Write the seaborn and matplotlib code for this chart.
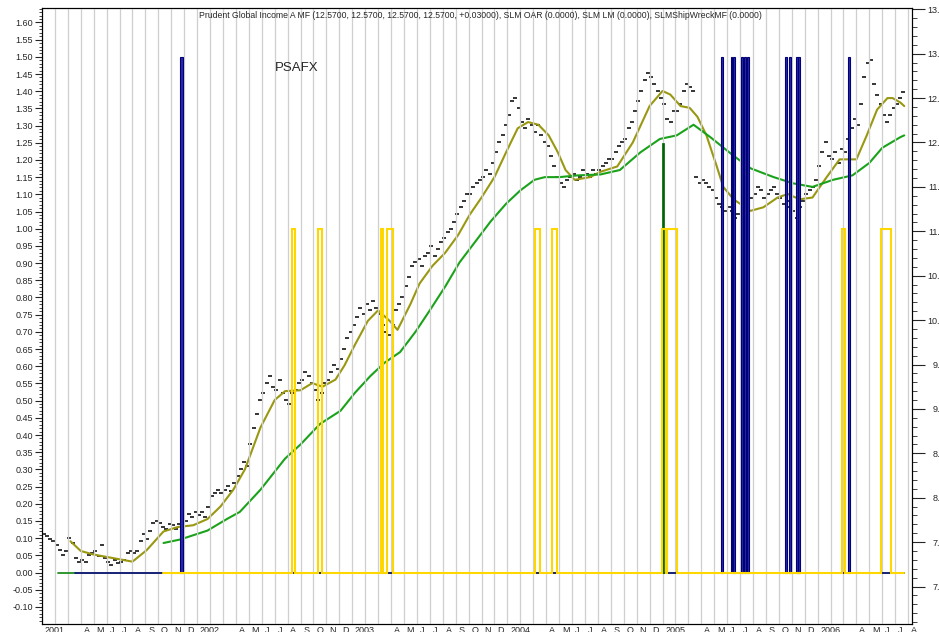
import matplotlib
matplotlib.use("Agg")
import matplotlib.pyplot as plt
from matplotlib.ticker import MultipleLocator, FuncFormatter
from matplotlib.transforms import ScaledTranslation
import seaborn as sns

# ---------------- data (x = months since Jan 2001) ----------------
price_2001 = [7.59, 7.57, 7.53, 7.51, 7.47, 7.41, 7.36, 7.40, 7.55, 7.49, 7.32, 7.28,
              7.30, 7.28, 7.36, 7.38, 7.40, 7.34, 7.47, 7.32, 7.28, 7.24, 7.30, 7.26,
              7.28, 7.30, 7.38, 7.40, 7.38, 7.40, 7.51, 7.59, 7.53, 7.63, 7.72, 7.74,
              7.72, 7.67, 7.65, 7.70, 7.69, 7.65, 7.70, 7.74, 7.74, 7.82, 7.78, 7.84]
price_2002 = [7.80, 7.84, 7.78, 7.90, 8.02, 8.05, 8.09, 8.05, 8.09, 8.13, 8.07, 8.17,
              8.25, 8.32, 8.40, 8.36, 8.60, 8.79, 8.94, 9.10, 9.18, 9.29, 9.37, 9.25,
              9.21, 9.33, 9.18, 9.10, 9.06, 9.18, 9.21, 9.29, 9.33, 9.41, 9.37, 9.29,
              9.21, 9.10, 9.18, 9.29, 9.33, 9.41, 9.49, 9.45, 9.56, 9.68, 9.80, 9.87]
price_2003 = [9.95, 10.03, 10.14, 10.07, 10.18, 10.11, 10.22, 10.14, 10.07, 9.95, 9.87, 9.83,
              9.95, 10.11, 10.18, 10.26, 10.38, 10.49, 10.61, 10.65, 10.69, 10.61, 10.72, 10.76,
              10.84, 10.72, 10.80, 10.88, 10.92, 10.99, 11.03, 11.11, 11.19, 11.27, 11.34, 11.42,
              11.42, 11.50, 11.54, 11.58, 11.61, 11.69, 11.65, 11.77, 11.89, 12.00, 12.08, 12.20]
price_2004 = [12.31, 12.47, 12.50, 12.39, 12.23, 12.16, 12.27, 12.20, 12.12, 12.20, 12.08, 12.00,
              11.96, 11.85, 11.73, 11.61, 11.54, 11.50, 11.58, 11.61, 11.65, 11.58, 11.61, 11.69,
              11.65, 11.61, 11.69, 11.65, 11.69, 11.73, 11.77, 11.81, 11.81, 11.89, 11.96, 12.00,
              12.04, 12.16, 12.23, 12.35, 12.47, 12.58, 12.70, 12.78, 12.74, 12.66, 12.58, 12.50]
price_2005 = [12.43, 12.27, 12.23, 12.35, 12.35, 12.43, 12.58, 12.66, 12.62, 12.58, 11.61, 11.54,
              11.58, 11.54, 11.50, 11.46, 11.38, 11.31, 11.27, 11.23, 11.27, 11.23, 11.15, 11.19,
              11.23, 11.19, 11.31, 11.38, 11.42, 11.50, 11.46, 11.38, 11.42, 11.46, 11.50, 11.42,
              11.38, 11.31, 11.34, 11.27, 11.23, 11.15, 11.27, 11.34, 11.42, 11.46, 11.50, 11.58]
price_2006 = [11.73, 11.89, 12.00, 11.85, 11.81, 11.89, 11.77, 11.93, 11.89, 12.04, 12.16, 12.27,
              12.20, 12.43, 12.74, 12.89, 12.93, 12.66, 12.54, 12.43, 12.31, 12.23, 12.31, 12.39,
              12.43, 12.50, 12.57]

short_ma_t = [2.2, 3.0, 4.0, 5.5, 7.0, 8.1, 9.4, 10.5, 11.7, 12.8, 13.8, 14.8, 15.7, 16.9, 18.0,
              18.8, 20.0, 20.9, 21.7, 22.7, 23.4, 24.2, 25.2, 26.0, 26.9, 27.5, 28.5, 29.2, 30.2,
              31.2, 32.2, 33.1, 34.0, 35.0, 35.9, 36.8, 37.6, 38.4, 39.2, 39.9, 40.5, 41.2, 42.4,
              43.2, 44.5, 45.7, 47.0, 48.0, 48.6, 49.4, 50.1, 50.7, 51.4, 52.2, 52.7, 53.5, 54.8,
              55.8, 56.9, 57.7, 58.6, 59.6, 60.7, 61.7, 63.0, 63.8, 64.6, 65.4, 65.8, 66.4, 66.7]
short_ma_v = [7.51, 7.40, 7.36, 7.32, 7.28, 7.41, 7.62, 7.67, 7.69, 7.76, 7.90, 8.09, 8.32, 8.79, 9.10,
              9.20, 9.21, 9.29, 9.25, 9.33, 9.49, 9.72, 9.99, 10.11, 9.99, 9.89, 10.18, 10.41, 10.61,
              10.76, 10.96, 11.19, 11.38, 11.61, 11.89, 12.16, 12.23, 12.20, 12.08, 11.89, 11.69, 11.58, 11.61,
              11.67, 11.73, 12.00, 12.41, 12.58, 12.54, 12.41, 12.39, 12.29, 12.08, 11.73, 11.50, 11.36, 11.23,
              11.27, 11.38, 11.42, 11.36, 11.38, 11.61, 11.81, 11.81, 12.08, 12.37, 12.50, 12.50, 12.45, 12.41]

long_ma_t = [9.4, 10.7, 12.8, 14.3, 15.3, 16.9, 18.8, 20.0, 21.5, 23.1, 24.2, 25.4, 26.5, 27.7,
             28.9, 30.0, 31.2, 32.3, 33.5, 34.7, 35.9, 37.0, 38.1, 38.9, 40.0, 41.5, 43.2, 44.7,
             46.3, 47.8, 49.1, 50.4, 51.7, 53.5, 54.8, 56.6, 58.1, 59.6, 61.2, 62.7, 64.0, 65.0,
             66.4, 66.7]
long_ma_v = [7.49, 7.53, 7.63, 7.76, 7.84, 8.09, 8.44, 8.60, 8.83, 8.98, 9.18, 9.37, 9.52, 9.64,
             9.87, 10.11, 10.38, 10.65, 10.88, 11.11, 11.31, 11.46, 11.58, 11.61, 11.61, 11.63, 11.64, 11.69,
             11.89, 12.04, 12.08, 12.20, 12.06, 11.85, 11.71, 11.61, 11.54, 11.50, 11.58, 11.63, 11.77, 11.94,
             12.06, 12.08]

# SLM OAR (navy) signal: bars up to 1.5
oar_start = [10.64, 52.53, 53.30, 53.48, 54.05, 54.31, 54.55, 57.48, 57.79, 58.33, 58.52, 62.33]
oar_end = [10.92, 52.68, 53.40, 53.61, 54.21, 54.47, 54.70, 57.64, 57.94, 58.45, 58.64, 62.48]
oar_level = 1.5
oar_span = [2.57, 66.7]

# SLM LM (yellow) signal: on = 1.0
lm_start = [19.33, 21.34, 26.23, 26.67, 38.14, 39.43, 47.94, 48.35, 61.86, 64.88]
lm_end = [19.58, 21.69, 26.41, 27.19, 38.53, 39.87, 48.24, 49.15, 62.08, 65.69]
lm_level = 1.0
lm_span = [9.37, 66.65]

# SLMShipWreckMF (green) signal
ship_t = [48.04]
ship_v = [1.25]
ship_span = [1.25, 66.7]

years = ["2001", "2002", "2003", "2004", "2005", "2006"]
month_letters = ["J", "F", "M", "A", "M", "J", "J", "A", "S", "O", "N", "D"]

title = ("Prudent Global Income A MF (12.5700, 12.5700, 12.5700, 12.5700, +0.03000), "
         "SLM OAR (0.0000), SLM LM (0.0000), SLMShipWreckMF (0.0000)")

# ---------------- figure ----------------
sns.set_style("white")
plt.rcParams["font.family"] = ["Liberation Sans", "DejaVu Sans"]

fig = plt.figure(figsize=(9.39, 6.32), dpi=100)
ax = fig.add_axes([42 / 939, 8 / 632, 870 / 939, 616.5 / 632])
ax2 = ax.twinx()
ax.set_zorder(2)
ax2.set_zorder(1)
ax.patch.set_visible(False)

price = price_2001 + price_2002 + price_2003 + price_2004 + price_2005 + price_2006
price_t = [k / 4 + 0.125 for k in range(len(price))]

sns.scatterplot(x=price_t, y=price, marker="_", s=10, color="black", linewidth=1.1, ax=ax2,
                legend=False)
sns.lineplot(x=short_ma_t, y=short_ma_v, color="#9a9810", linewidth=1.5, ax=ax2, legend=False)
sns.lineplot(x=long_ma_t, y=long_ma_v, color="#1aa31a", linewidth=1.5, ax=ax2, legend=False)

# signals on left axis
ax.plot(ship_span, [0, 0], color="#1f8f1f", lw=1.3, zorder=3)
ax.plot(oar_span, [0, 0], color="#1a1a80", lw=1.3, zorder=3)
ax.bar([(a + b) / 2 for a, b in zip(oar_start, oar_end)], oar_level,
       width=[b - a for a, b in zip(oar_start, oar_end)], color="#2a2aa6",
       edgecolor="#000078", linewidth=0.8, zorder=4)
ax.bar(ship_t, ship_v, width=0.12, color="#006400", edgecolor="#006400", linewidth=0.5, zorder=4)
lx, ly = [lm_span[0]], [0]
for a, b in zip(lm_start, lm_end):
    lx += [a, a, b, b]
    ly += [0, lm_level, lm_level, 0]
lx.append(lm_span[1])
ly.append(0)
ax.plot(lx, ly, color="#ffd700", lw=1.5, zorder=5, solid_joinstyle="miter")

# limits
ax.set_xlim(0, 67.3)
ax.set_ylim(-0.1498, 1.6436)
ax2.set_ylim(6.578, 13.520)

# x ticks
tick_pos, tick_lab = [], []
for yi, yr in enumerate(years):
    for mi in range(12):
        m = yi * 12 + mi
        if m > 67 or mi == 1:
            continue
        tick_pos.append(m)
        tick_lab.append(yr if mi == 0 else ("" if mi == 2 else month_letters[mi]))
ax.set_xticks(tick_pos)
ax.set_xticklabels(tick_lab)
ax.xaxis.set_minor_locator(MultipleLocator(1))
ax.tick_params(axis="x", which="major", direction="out", length=10, width=0.8,
               labelsize=6.5, pad=-8.6, color="#333333")
ax.tick_params(axis="x", which="minor", length=0)
ax.grid(axis="x", which="both", color="#cfcfcf", linewidth=0.9)
ax.grid(axis="y", visible=False)
ax2.grid(False)
off = ScaledTranslation(2 / 72, 0, fig.dpi_scale_trans)
for lab in ax.get_xticklabels():
    lab.set_horizontalalignment("left")
    lab.set_transform(lab.get_transform() + off)

# left y ticks
ax.yaxis.set_major_locator(MultipleLocator(0.05))
ax.yaxis.set_minor_locator(MultipleLocator(0.01))
ax.yaxis.set_major_formatter(FuncFormatter(lambda v, p: f"{round(v, 2) + 0.0:.2f}"))
ax.tick_params(axis="y", which="major", direction="out", length=5, width=0.8, labelsize=6.5, pad=1.5)
ax.tick_params(axis="y", which="minor", direction="out", length=2.5, width=0.6)

# right y ticks
ax2.yaxis.set_major_locator(MultipleLocator(0.5))
ax2.yaxis.set_minor_locator(MultipleLocator(0.1))
ax2.yaxis.set_major_formatter(FuncFormatter(lambda v, p: f"{v:.2f}"))
ax2.tick_params(axis="y", which="major", direction="out", length=9, width=0.8, labelsize=6.5, pad=18.5)
ax2.tick_params(axis="y", which="minor", direction="out", length=3.5, width=0.6)
for lab in ax2.get_yticklabels():
    lab.set_horizontalalignment("right")

for a in (ax, ax2):
    for s in a.spines.values():
        s.set_color("black")
        s.set_linewidth(0.8)

ax.text(0.5034, 0.9878, title, transform=ax.transAxes, ha="center", va="center",
        fontsize=6.2, family=["Liberation Sans Narrow", "Liberation Sans", "DejaVu Sans"])
ax.text(18.04, 1.4677, "PSAFX", ha="left", va="center", fontsize=9.5)

fig.savefig("out.png", dpi=100)
